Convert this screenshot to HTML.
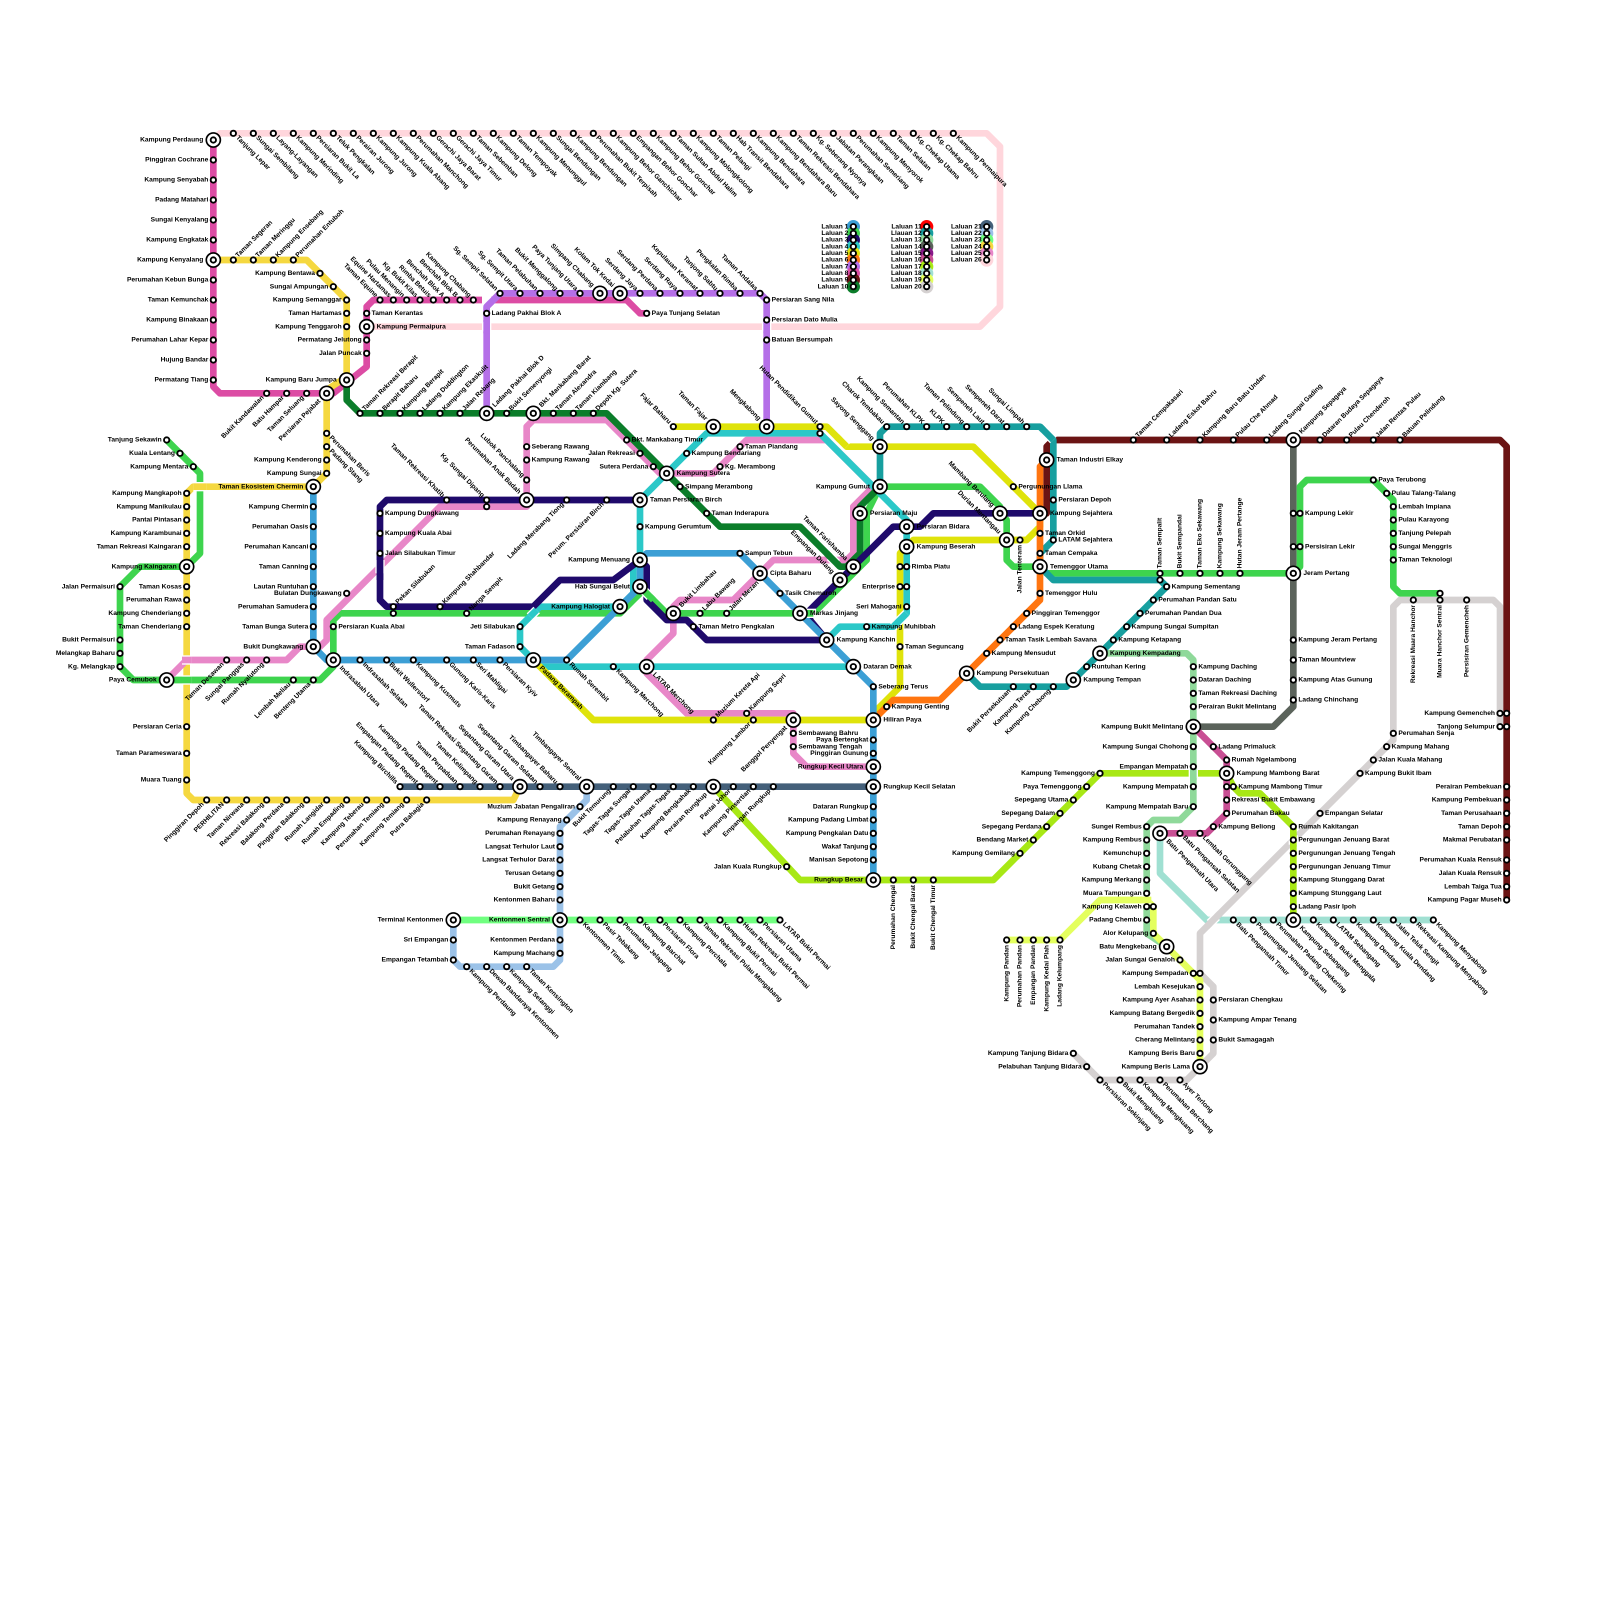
<!DOCTYPE html>
<html><head><meta charset="utf-8"><title>Peta Laluan</title>
<style>
html,body{margin:0;padding:0;background:#fff}
svg{display:block}
text{font-family:"Liberation Sans",Arial,sans-serif;font-weight:bold;font-size:1px;fill:#000}
.e{text-anchor:end}
.l path{fill:none;stroke-width:1;stroke-linejoin:round;stroke-linecap:round}
.p path{fill:none;stroke-width:1;stroke-linecap:butt;stroke-linejoin:round}
.p path.w{stroke:#fff;stroke-width:1.4}
.d{fill:none;stroke-linecap:round}
</style></head><body>
<svg xmlns="http://www.w3.org/2000/svg" width="1600" height="1600" viewBox="0 0 240 240">
<rect width="240" height="240" fill="#fff"/>
<g class="l">
<path stroke="#ffd6dc" d="M32 21L33 20H148L150 22V46L147 49H55"/>
<path stroke="#a0e0d2" d="M174 125V131L181 138H215"/>
<path stroke="#d5d1d1" d="M225 109V91L224 90H210L209 91V111L180 140V146L182 148V158L178 162H165L161 158"/>
<path stroke="#a8e815" d="M107 118L120 132H149L165 116H184L185 118L186 119H189L194 124V138"/>
<path stroke="#8fd99a" d="M165 98H178L179 99V121L177 123H173L172 124V140L175 142"/>
<path stroke="#e4ff5e" d="M151 141H159L165 135H172L173 136V140L180 147V160"/>
<path stroke="#5b635b" d="M194 66V106L191 109H179"/>
<path stroke="#c94f94" d="M179 109L184 114V122L181 125H174"/>
<path stroke="#9bc2e8" d="M88 118V120L84 124V144L83 145H69L68 144V138"/>
<path stroke="#44607a" d="M60 118H131"/>
<path stroke="#70ff80" d="M68 138H117"/>
<path stroke="#dc4ca4" d="M32 21V58L33 59H50L55 55V46L56 45H94L96 47H97"/>
<path stroke="#b56fe8" d="M73 62V46L75 44H114L115 45V64"/>
<path stroke="#f5d840" d="M32 39H46L52 45V56.500L49 58.500V71L47 73H29L28 74V119L29 120H77L78 118"/>
<path stroke="#3ed44e" d="M25 66L30 71V83L28 85H21L18 88V100L20 102H48L50 100V93L51 92H93L96 89V88L100 92H122L130 84V77L132 73H147L150 76V77L151 78V84L152 85H156L157 86H194L195 85V73L196 72H206L209 75V88L210 89H216"/>
<path stroke="#e887c8" d="M25 102L28 99H43L45 97H48L49 96V93L66 76H79V64L80 63H91L99 71H107L112 66H124L131 73L128 76V83L127 84H116L110 90H102L101 91V95L97 99V101L103 107H119V113L121 115H131"/>
<path stroke="#2bc8c8" d="M128 100H81L80 99L78 97V94L81 91H93L95 89V85L96 84V75L106 65H123L136 78V92L134 94H126L124 96L128 100"/>
<path stroke="#dfe30b" d="M101 64H124L127 67H146L156 77V79L155 80L154 81H137L135 83V103L131 107V108H89L80 99"/>
<path stroke="#0b7d2a" d="M52 57V60L54 62H91L108 79H120L126 85H127L129 83V76L132 73"/>
<path stroke="#6b1414" d="M157 77V67L158 66H225L226 67V135"/>
<path stroke="#179f9f" d="M145 101L147 103H160L175 88L174 87H158L156 85V83L158 81V66L156 64H133L132 65V73"/>
<path stroke="#ff7510" d="M157 69L156 70V90L141 105H134L131 108"/>
<path stroke="#1f0a6b" d="M156 77H140L138 79H134L121.500 91.500V93L124 96H106L103 93H100L97 90V85L96 84L92 87H84L80 91H58L57 90V76L58 75H96"/>
<path stroke="#3c9fd5" d="M47 73V97L49 99H85L96 88V84L97 83H111L131 103V132"/>
</g>
<g class="p">
<path class="w" d="M73 44V46"/><path stroke="#b56fe8" d="M73 47V46L75 44"/>
<path class="w" d="M73 48.300V49.700"/><path stroke="#b56fe8" d="M73 48V50"/>
<path class="w" d="M115 48.300V49.700"/><path stroke="#b56fe8" d="M115 48V50"/>
<path class="w" d="M57 84V86"/><path stroke="#1f0a6b" d="M57 83V87"/>
<path class="w" d="M29 73H31"/><path stroke="#f5d840" d="M29 73H31"/>
<path class="w" d="M27.300 99H28.700"/><path stroke="#e887c8" d="M27.300 99H28.700"/>
<path class="w" d="M27.300 102H28.700"/><path stroke="#3ed44e" d="M27.300 102H28.700"/>
<path class="w" d="M79.500 92.500L80.500 91.500"/><path stroke="#2bc8c8" d="M79.500 92.500L80.500 91.500"/>
<path class="w" d="M96.500 88.500L97.500 89.500"/><path stroke="#3ed44e" d="M96 88L98 90"/>
<path class="w" d="M121 92H122.400"/><path stroke="#3ed44e" d="M120.500 92H122"/>
<path class="w" d="M136 92L134 94"/><path stroke="#2bc8c8" d="M136 92L134 94"/>
<path class="w" d="M179 115.300V116.700"/><path stroke="#8fd99a" d="M179 115V117"/>
<path class="w" d="M171.300 135H172.700"/><path stroke="#e4ff5e" d="M171 135H172.700"/>
<path class="w" d="M194 125.300V126.700"/><path stroke="#a8e815" d="M194 125V127"/>
<path class="w" d="M182.500 137.500L181.500 138.500"/><path stroke="#d5d1d1" d="M183 137L181 139"/>
<path class="w" d="M124.500 83.500L125.500 84.500"/><path stroke="#0b7d2a" d="M124 83L126 85"/>
<path class="w" d="M156.500 64.500L158 66"/><path stroke="#179f9f" d="M156 64L158 66"/>
<path class="w" d="M126 66L127 67"/><path stroke="#dfe30b" d="M125.500 65.500L127 67"/>
</g>
<g>
<circle cx="128" cy="34" r="1" fill="#3c9fd5"/><circle cx="128" cy="35" r="1" fill="#3ed44e"/><circle cx="128" cy="36" r="1" fill="#1f0a6b"/><circle cx="128" cy="37" r="1" fill="#2bc8c8"/><circle cx="128" cy="38" r="1" fill="#dfe30b"/><circle cx="128" cy="39" r="1" fill="#ff7510"/><circle cx="128" cy="40" r="1" fill="#b56fe8"/><circle cx="128" cy="41" r="1" fill="#dc4ca4"/><circle cx="128" cy="42" r="1" fill="#6b1414"/><circle cx="128" cy="43" r="1" fill="#0b7d2a"/>
<circle cx="139" cy="34" r="1" fill="#ff0000"/><circle cx="139" cy="35" r="1" fill="#179f9f"/><circle cx="139" cy="36" r="1" fill="#8fd99a"/><circle cx="139" cy="37" r="1" fill="#5b635b"/><circle cx="139" cy="38" r="1" fill="#8a1a8a"/><circle cx="139" cy="39" r="1" fill="#c94f94"/><circle cx="139" cy="40" r="1" fill="#a8e815"/><circle cx="139" cy="41" r="1" fill="#a0e0d2"/><circle cx="139" cy="42" r="1" fill="#e4ff5e"/><circle cx="139" cy="43" r="1" fill="#d5d1d1"/>
<circle cx="148" cy="34" r="1" fill="#44607a"/><circle cx="148" cy="35" r="1" fill="#9bc2e8"/><circle cx="148" cy="36" r="1" fill="#70ff80"/><circle cx="148" cy="37" r="1" fill="#f5d840"/><circle cx="148" cy="38" r="1" fill="#e887c8"/><circle cx="148" cy="39" r="1" fill="#ffd6dc"/>
</g>
<defs>
<path id="st" d="M35 20h0M38 20h0M41 20h0M44 20h0M47 20h0M50 20h0M53 20h0M56 20h0M59 20h0M62 20h0M65 20h0M68 20h0M71 20h0M74 20h0M77 20h0M80 20h0M83 20h0M86 20h0M89 20h0M92 20h0M95 20h0M98 20h0M101 20h0M104 20h0M107 20h0M110 20h0M113 20h0M116 20h0M119 20h0M122 20h0M125 20h0M128 20h0M131 20h0M134 20h0M137 20h0M140 20h0M143 20h0
M32 24h0M32 27h0M32 30h0M32 33h0M32 36h0M32 42h0M32 45h0M32 48h0M32 51h0M32 54h0M32 57h0M40 59h0M43 59h0M46 59h0M57 45h0M59 45h0M61 45h0M63 45h0M65 45h0M67 45h0M69 45h0M71 45h0M55 47h0M55 51h0M55 53h0M97 47h0
M75 44h0M78 44h0M81 44h0M84 44h0M87 44h0M96 44h0M99 44h0M102 44h0M105 44h0M108 44h0M111 44h0M114 44h0M73 47h0M115 45h0M115 48h0M115 51h0
M35 39h0M38 39h0M41 39h0M44 39h0M48 41h0M50 43h0M52 45h0M52 47h0M52 49h0M49 65h0M49 67h0M49 69h0M49 71h0M28 74h0M28 76h0M28 78h0M28 80h0M28 82h0M28 88h0M28 90h0M28 92h0M28 94h0M28 109h0M28 113h0M28 117h0M31 120h0M34 120h0M37 120h0M40 120h0M43 120h0M46 120h0M49 120h0M52 120h0M55 120h0M58 120h0M61 120h0M64 120h0
M60 118h0M63 118h0M66 118h0M69 118h0M72 118h0M75 118h0M81 118h0M84 118h0M92 118h0M95 118h0M98 118h0M101 118h0M104 118h0M110 118h0M113 118h0M116 118h0
M87 121h0M85 123h0M84 125h0M84 127h0M84 129h0M84 131h0M84 133h0M84 135h0M84 141h0M84 143h0M68 141h0M68 144h0M70 145h0M73 145h0M76 145h0M79 145h0
M87 138h0M90 138h0M93 138h0M96 138h0M99 138h0M102 138h0M105 138h0M108 138h0M111 138h0M114 138h0M117 138h0
M47 76h0M47 79h0M47 82h0M47 85h0M47 88h0M47 91h0M47 94h0M54 99h0M58 99h0M62 99h0M67 99h0M71 99h0M75 99h0M85 99h0M111 83h0M117 89h0M131 103h0M131 111h0M131 113h0M131 121h0M131 123h0M131 125h0M131 127h0M131 129h0
M25 66h0M27 68h0M29 70h0M18 88h0M18 96h0M18 98h0M18 100h0M44 102h0M47 102h0M50 94h0M59 92h0M70 92h0M105 92h0M109 92h0M174 86h0M177 86h0M180 86h0M183 86h0M186 86h0M195 77h0M195 82h0M206 72h0M208 74h0M209 76h0M209 78h0M209 80h0M209 82h0M209 84h0M216 89h0
M57 77h0M57 80h0M57 83h0M59 91h0M66 91h0M67 75h0M73 75h0M85 75h0M91 75h0M104 94h0
M78 94h0M78 97h0M92 100h0M96 79h0M103 68h0M123 65h0M130 94h0M136 85h0M136 88h0M136 91h0
M101 64h0M123 64h0M135 85h0M135 88h0M135 97h0M107 108h0M113 108h0M152 73h0M153 81h0
M54 62h0M57 62h0M60 62h0M63 62h0M66 62h0M69 62h0M76 62h0M83 62h0M86 62h0M89 62h0M94 66h0M96 68h0M98 70h0M102 73h0M106 77h0
M34 99h0M37 99h0M40 99h0M52 89h0M73 76h0M79 67h0M79 69h0M79 72h0M108 70h0M111 67h0M112 107h0M119 110h0M119 112h0
M133 64h0M136 64h0M139 64h0M142 64h0M145 64h0M148 64h0M151 64h0M154 64h0M158 75h0M158 81h0M152 103h0M155 103h0M158 103h0M163 100h0M167 96h0M169 94h0M171 92h0M173 90h0M175 88h0M174 87h0
M133 106h0M148 98h0M150 96h0M152 94h0M154 92h0M156 89h0M156 83h0M156 80h0
M170 66h0M175 66h0M180 66h0M185 66h0M190 66h0M198 66h0M202 66h0M206 66h0M210 66h0M226 107h0M226 109h0M226 118h0M226 120h0M226 122h0M226 124h0M226 126h0M226 129h0M226 131h0M226 133h0M226 135h0
M225 107h0M225 109h0M212 90h0M216 90h0M220 90h0M209 110h0M208 112h0M206 114h0M204 116h0M198 122h0M180 146h0M182 150h0M182 153h0M182 156h0M161 158h0M163 160h0M165 162h0M168 162h0M171 162h0M174 162h0M177 162h0
M194 77h0M194 82h0M194 96h0M194 99h0M194 102h0M194 105h0
M179 100h0M179 102h0M179 104h0M179 106h0M179 112h0M179 115h0M179 118h0M179 121h0M172 124h0M172 126h0M172 128h0M172 130h0M172 132h0M172 134h0M172 136h0M172 138h0
M151 141h0M153 141h0M155 141h0M157 141h0M159 141h0M173 136h0M173 140h0M177 144h0M179 146h0M180 148h0M180 150h0M180 152h0M180 154h0M180 156h0M180 158h0
M118 130h0M134 132h0M137 132h0M140 132h0M165 116h0M163 118h0M161 120h0M159 122h0M157 124h0M155 126h0M153 128h0M185 118h0M194 124h0M194 126h0M194 128h0M194 130h0M194 132h0M194 134h0M194 136h0
M182 112h0M184 114h0M184 118h0M184 120h0M184 122h0M182 124h0M177 125h0M180 125h0
M185 138h0M188 138h0M191 138h0M197 138h0M200 138h0M203 138h0M206 138h0M209 138h0M212 138h0M215 138h0
M128 34h0M128 35h0M128 36h0M128 37h0M128 38h0M128 39h0M128 40h0M128 41h0M128 42h0M128 43h0M139 34h0M139 35h0M139 36h0M139 37h0M139 38h0M139 39h0M139 40h0M139 41h0M139 42h0M139 43h0M148 34h0M148 35h0M148 36h0M148 37h0M148 38h0M148 39h0"/>
<path id="it" d="M32 21h0M32 39h0M55 49h0M52 57h0M49 59h0M73 62h0M80 62h0M90 44h0M93 44h0M47 73h0M28 85h0M25 102h0M47 97h0M50 99h0M79 75h0M80 99h0M96 75h0M100 71h0M107 64h0M115 64h0M132 73h0M132 67h0M129 77h0M136 79h0M136 82h0M128 85h0M126 87h0M96 84h0M96 88h0M93 91h0M101 92h0M114 86h0M120 92h0M124 96h0M128 100h0M97 100h0M150 77h0M151 81h0M145 101h0M157 69h0M156 77h0M156 85h0M194 86h0M194 66h0M165 98h0M161 102h0M179 109h0M184 116h0M174 125h0M175 142h0M194 138h0M180 160h0M119 108h0M131 108h0M131 115h0M131 118h0M131 132h0M88 118h0M107 118h0M84 138h0M78 118h0M68 138h0"/>
</defs>
<use href="#st" class="d" stroke="#000" stroke-width="1.08"/>
<use href="#st" class="d" stroke="#fff" stroke-width=".52"/>
<use href="#it" class="d" stroke="#000" stroke-width="2.36"/>
<use href="#it" class="d" stroke="#fff" stroke-width="1.86"/>
<use href="#it" class="d" stroke="#000" stroke-width="1.08"/>
<use href="#it" class="d" stroke="#fff" stroke-width=".52"/>

<g class="e">
<text x="127.25" y="34.25">Laluan 1</text><text x="127.25" y="35.25">Laluan 2</text><text x="127.25" y="36.25">Laluan 3</text><text x="127.25" y="37.25">Laluan 4</text><text x="127.25" y="38.25">Laluan 5</text><text x="127.25" y="39.25">Laluan 6</text><text x="127.25" y="40.25">Laluan 7</text><text x="127.25" y="41.25">Laluan 8</text><text x="127.25" y="42.25">Laluan 9</text><text x="127.25" y="43.25">Laluan 10</text>
<text x="138.25" y="34.25">Laluan 11</text><text x="138.25" y="35.25">Llauan 12</text><text x="138.25" y="36.25">Laluan 13</text><text x="138.25" y="37.25">Laluan 14</text><text x="138.25" y="38.25">Laluan 15</text><text x="138.25" y="39.25">Laluan 16</text><text x="138.25" y="40.25">Laluan 17</text><text x="138.25" y="41.25">Laluan 18</text><text x="138.25" y="42.25">Laluan 19</text><text x="138.25" y="43.25">Laluan 20</text>
<text x="147.25" y="34.25">Laluan 21</text><text x="147.25" y="35.25">Laluan 22</text><text x="147.25" y="36.25">Laluan 23</text><text x="147.25" y="37.25">Laluan 24</text><text x="147.25" y="38.25">Laluan 25</text><text x="147.25" y="39.25">Laluan 26</text>
<text x="30.5" y="21.25">Kampung Perdaung</text><text x="31.25" y="24.25">Pinggiran Cochrane</text><text x="31.25" y="27.25">Kampung Senyabah</text><text x="31.25" y="30.25">Padang Matahari</text><text x="31.25" y="33.25">Sungai Kenyalang</text><text x="31.25" y="36.25">Kampung Engkatak</text><text x="30.5" y="39.25">Kampung Kenyalang</text><text x="31.25" y="42.25">Perumahan Kebun Bunga</text><text x="31.25" y="45.25">Taman Kemunchak</text><text x="31.25" y="48.25">Kampung Binakaan</text><text x="31.25" y="51.25">Perumahan Lahar Kepar</text><text x="31.25" y="54.25">Hujung Bandar</text><text x="31.25" y="57.25">Permatang Tiang</text>
<text x="50.5" y="57.25">Kampung Baru Jumpa</text><text x="47.25" y="41.25">Kampung Bentawa</text><text x="49.25" y="43.25">Sungai Ampungan</text><text x="51.25" y="45.25">Kampung Semanggar</text><text x="51.25" y="47.25">Taman Hartamas</text><text x="51.25" y="49.25">Kampung Tenggaroh</text><text x="54.25" y="51.25">Permatang Jelutong</text><text x="54.25" y="53.25">Jalan Puncak</text>
<text x="24.25" y="66.25">Tanjung Sekawin</text><text x="26.25" y="68.25">Kuala Lentang</text><text x="28.25" y="70.25">Kampung Mentara</text><text x="27.25" y="74.25">Kampung Mangkapoh</text><text x="27.25" y="76.25">Kampung Manikulau</text><text x="27.25" y="78.25">Pantai Pintasan</text><text x="27.25" y="80.25">Kampung Karambunai</text><text x="27.25" y="82.25">Taman Rekreasi Kaingaran</text><text x="26.5" y="85.25">Kampung Kaingaran</text><text x="27.25" y="88.25">Taman Kosas</text><text x="27.25" y="90.25">Perumahan Rawa</text><text x="27.25" y="92.25">Kampung Chenderiang</text><text x="27.25" y="94.25">Taman Chenderiang</text>
<text x="17.25" y="88.25">Jalan Permaisuri</text><text x="17.25" y="96.25">Bukit Permaisuri</text><text x="17.25" y="98.25">Melangkap Baharu</text><text x="17.25" y="100.25">Kg. Melangkap</text><text x="23.5" y="102.25">Paya Cemubok</text>
<text x="48.25" y="69.25">Kampung Kenderong</text><text x="48.25" y="71.25">Kampung Sungai</text><text x="45.5" y="73.25">Taman Ekosistem Chermin</text>
<text x="46.25" y="76.25">Kampung Chermin</text><text x="46.25" y="79.25">Perumahan Oasis</text><text x="46.25" y="82.25">Perumahan Kancani</text><text x="46.25" y="85.25">Taman Canning</text><text x="46.25" y="88.25">Lautan Runtuhan</text><text x="46.25" y="91.25">Perumahan Samudera</text><text x="46.25" y="94.25">Taman Bunga Sutera</text><text x="45.5" y="97.25">Bukit Dungkawang</text><text x="51.25" y="89.25">Bulatan Dungkawang</text>
<text x="77.25" y="94.25">Jeti Silabukan</text><text x="77.25" y="97.25">Taman Fadason</text><text x="94.5" y="84.25">Kampung Menuang</text><text x="94.5" y="88.25">Hab Sungai Belut</text><text x="91.5" y="91.25">Kampung Halogiat</text><text x="95.25" y="68.25">Jalan Rekreasi</text><text x="97.25" y="70.25">Sutera Perdana</text>
<text x="130.5" y="73.25">Kampung Gumut</text><text x="134.25" y="88.25">Enterprise</text><text x="135.25" y="91.25">Seri Mahogani</text>
<text x="130.25" y="111.25">Paya Bertengkat</text><text x="130.25" y="113.25">Pinggiran Gunung</text><text x="129.5" y="115.25">Rungkup Kecil Utara</text><text x="130.25" y="121.25">Dataran Rungkup</text><text x="130.25" y="123.25">Kampung Padang Limbat</text><text x="130.25" y="125.25">Kampung Pengkalan Datu</text><text x="130.25" y="127.25">Wakaf Tanjung</text><text x="130.25" y="129.25">Manisan Sepotong</text><text x="129.5" y="132.25">Rungkup Besar</text><text x="117.25" y="130.25">Jalan Kuala Rungkup</text>
<text x="86.25" y="121.25">Muzium Jabatan Pengaliran</text><text x="84.25" y="123.25">Kampung Renayang</text><text x="83.25" y="125.25">Perumahan Renayang</text><text x="83.25" y="127.25">Langsat Terhulor Laut</text><text x="83.25" y="129.25">Langsat Terhulor Darat</text><text x="83.25" y="131.25">Terusan Getang</text><text x="83.25" y="133.25">Bukit Getang</text><text x="83.25" y="135.25">Kentonmen Baharu</text><text x="82.5" y="138.25">Kentonmen Sentral</text><text x="83.25" y="141.25">Kentonmen Perdana</text><text x="83.25" y="143.25">Kampung Machang</text>
<text x="66.5" y="138.25">Terminal Kentonmen</text><text x="67.25" y="141.25">Sri Empangan</text><text x="67.25" y="144.25">Empangan Tetambah</text>
<text x="27.25" y="109.25">Persiaran Ceria</text><text x="27.25" y="113.25">Taman Parameswara</text><text x="27.25" y="117.25">Muara Tuang</text>
<text x="164.25" y="116.25">Kampung Temenggong</text><text x="162.25" y="118.25">Paya Temenggong</text><text x="160.25" y="120.25">Sepegang Utama</text><text x="158.25" y="122.25">Sepegang Dalam</text><text x="156.25" y="124.25">Sepegang Perdana</text><text x="154.25" y="126.25">Bendang Market</text><text x="152.25" y="128.25">Kampung Gemilang</text>
<text x="177.5" y="109.25">Kampung Bukit Melintang</text><text x="178.25" y="112.25">Kampung Sungai Chohong</text><text x="178.25" y="115.25">Empangan Mempatah</text><text x="178.25" y="118.25">Kampung Mempatah</text><text x="178.25" y="121.25">Kampung Mempatah Baru</text>
<text x="171.25" y="124.25">Sungei Rembus</text><text x="171.25" y="126.25">Kampung Rembus</text><text x="171.25" y="128.25">Kemunchup</text><text x="171.25" y="130.25">Kubang Chetak</text><text x="171.25" y="132.25">Kampung Merkang</text><text x="171.25" y="134.25">Muara Tampungan</text><text x="171.25" y="136.25">Kampung Kelaweh</text><text x="171.25" y="138.25">Padang Chembu</text><text x="172.25" y="140.25">Alor Kelupang</text><text x="173.5" y="142.25">Batu Mengkebang</text><text x="176.25" y="144.25">Jalan Sungai Genaloh</text><text x="178.25" y="146.25">Kampung Sempadan</text>
<text x="179.25" y="148.25">Lembah Kesejukan</text><text x="179.25" y="150.25">Kampung Ayer Asahan</text><text x="179.25" y="152.25">Kampung Batang Bergedik</text><text x="179.25" y="154.25">Perumahan Tandek</text><text x="179.25" y="156.25">Cherang Melintang</text><text x="179.25" y="158.25">Kampung Beris Baru</text><text x="178.5" y="160.25">Kampung Beris Lama</text>
<text x="160.25" y="158.25">Kampung Tanjung Bidara</text><text x="162.25" y="160.25">Pelabuhan Tanjung Bidara</text>
<text x="224.25" y="107.25">Kampung Gemencheh</text><text x="224.25" y="109.25">Tanjong Selumpur</text>
<text x="225.25" y="118.25">Perairan Pembekuan</text><text x="225.25" y="120.25">Kampung Pembekuan</text><text x="225.25" y="122.25">Taman Perusahaan</text><text x="225.25" y="124.25">Taman Depoh</text><text x="225.25" y="126.25">Makmal Perubatan</text><text x="225.25" y="129.25">Perumahan Kuala Rensuk</text><text x="225.25" y="131.25">Jalan Kuala Rensuk</text><text x="225.25" y="133.25">Lembah Taiga Tua</text><text x="225.25" y="135.25">Kampung Pagar Museh</text>
</g>

<g>
<text x="55.75" y="47.25">Taman Kerantas</text><text x="56.5" y="49.25">Kampung Permaipura</text><text x="73.75" y="47.25">Ladang Pakhai Blok A</text><text x="97.75" y="47.25">Paya Tunjang Selatan</text><text x="115.75" y="45.25">Persiaran Sang Nila</text><text x="115.75" y="48.25">Persiaran Dato Mulia</text><text x="115.75" y="51.25">Batuan Bersumpah</text>
<text x="57.75" y="77.25">Kampung Dungkawang</text><text x="57.75" y="80.25">Kampung Kuala Abai</text><text x="57.75" y="83.25">Jalan Silabukan Timur</text><text x="50.75" y="94.25">Persiaran Kuala Abai</text>
<text x="79.75" y="67.25">Seberang Rawang</text><text x="79.75" y="69.25">Kampung Rawang</text>
<text x="94.75" y="66.25">Bkt. Mankabang Timur</text><text x="103.75" y="68.25">Kampung Bendariang</text><text x="111.75" y="67.25">Taman Piandang</text><text x="108.75" y="70.25">Kg. Merambong</text><text x="101.5" y="71.25">Kampung Sutera</text><text x="102.75" y="73.25">Simpang Merambong</text><text x="97.5" y="75.25">Taman Persiaran Birch</text><text x="106.75" y="77.25">Taman Inderapura</text><text x="96.75" y="79.25">Kampung Gerumtum</text><text x="111.75" y="83.25">Sampun Tebun</text><text x="115.5" y="86.25">Cipta Baharu</text><text x="117.75" y="89.25">Tasik Chemaroh</text><text x="121.5" y="92.25">Markas Jinjang</text><text x="104.75" y="94.25">Taman Metro Pengkalan</text><text x="125.5" y="96.25">Kampung Kanchin</text><text x="129.5" y="100.25">Dataran Demak</text><text x="131.75" y="103.25">Seberang Terus</text><text x="133.75" y="106.25">Kampung Genting</text><text x="132.5" y="108.25">Hiliran Paya</text><text x="132.5" y="118.25">Rungkup Kecil Selatan</text><text x="119.75" y="110.25">Sembawang Bahru</text><text x="119.75" y="112.25">Sembawang Tengah</text>
<text x="130.5" y="77.25">Persiaran Maju</text><text x="137.5" y="79.25">Persiaran Bidara</text><text x="137.5" y="82.25">Kampung Beserah</text><text x="136.75" y="85.25">Rimba Piatu</text><text x="130.75" y="94.25">Kampung Muhibbah</text><text x="135.75" y="97.25">Taman Seguncang</text><text x="146.5" y="101.25">Kampung Persekutuan</text><text x="148.75" y="98.25">Kampung Mensudut</text><text x="150.75" y="96.25">Taman Tasik Lembah Savana</text><text x="152.75" y="94.25">Ladang Espek Keratung</text><text x="154.75" y="92.25">Pinggiran Temenggor</text><text x="156.75" y="89.25">Temenggor Hulu</text><text x="157.5" y="85.25">Temenggor Utama</text><text x="156.75" y="83.25">Taman Cempaka</text><text x="156.75" y="80.25">Taman Orkid</text><text x="158.75" y="81.25">LATAM Sejahtera</text><text x="157.5" y="77.25">Kampung Sejahtera</text><text x="158.75" y="75.25">Persiaran Depoh</text><text x="152.75" y="73.25">Pergunungan Llama</text><text x="158.5" y="69.25">Taman Industri Elkay</text>
<text x="175.75" y="88.25">Kampung Sementang</text><text x="173.75" y="90.25">Perumahan Pandan Satu</text><text x="171.75" y="92.25">Perumahan Pandan Dua</text><text x="169.75" y="94.25">Kampung Sungai Sumpitan</text><text x="167.75" y="96.25">Kampung Ketapang</text><text x="166.5" y="98.25">Kampung Kempadang</text><text x="163.75" y="100.25">Runtuhan Kering</text><text x="162.5" y="102.25">Kampung Tempan</text>
<text x="179.75" y="100.25">Kampung Daching</text><text x="179.75" y="102.25">Dataran Daching</text><text x="179.75" y="104.25">Taman Rekreasi Daching</text><text x="179.75" y="106.25">Perairan Bukit Melintang</text>
<text x="195.75" y="77.25">Kampung Lekir</text><text x="195.75" y="82.25">Persisiran Lekir</text><text x="195.5" y="86.25">Jeram Pertang</text><text x="194.75" y="96.25">Kampung Jeram Pertang</text><text x="194.75" y="99.25">Taman Mountview</text><text x="194.75" y="102.25">Kampung Atas Gunung</text><text x="194.75" y="105.25">Ladang Chinchang</text>
<text x="206.75" y="72.25">Paya Terubong</text><text x="208.75" y="74.25">Pulau Talang-Talang</text><text x="209.75" y="76.25">Lembah Impiana</text><text x="209.75" y="78.25">Pulau Karayong</text><text x="209.75" y="80.25">Tanjung Pelepah</text><text x="209.75" y="82.25">Sungai Menggris</text><text x="209.75" y="84.25">Taman Teknologi</text>
<text x="209.75" y="110.25">Perumahan Senja</text><text x="208.75" y="112.25">Kampung Mahang</text><text x="206.75" y="114.25">Jalan Kuala Mahang</text><text x="204.75" y="116.25">Kampung Bukit Ibam</text><text x="198.75" y="122.25">Empangan Selatar</text>
<text x="182.75" y="112.25">Ladang Primaluck</text><text x="184.75" y="114.25">Rumah Ngelambong</text><text x="185.5" y="116.25">Kampung Mambong Barat</text><text x="185.75" y="118.25">Kampung Mambong Timur</text><text x="184.75" y="120.25">Rekreasi Bukit Embawang</text><text x="184.75" y="122.25">Perumahan Bakau</text><text x="182.75" y="124.25">Kampung Beliong</text>
<text x="194.75" y="124.25">Rumah Kakitangan</text><text x="194.75" y="126.25">Pergunungan Jenuang Barat</text><text x="194.75" y="128.25">Pergunungan Jenuang Tengah</text><text x="194.75" y="130.25">Pergunungan Jenuang Timur</text><text x="194.75" y="132.25">Kampung Stunggang Darat</text><text x="194.75" y="134.25">Kampung Stunggang Laut</text><text x="194.75" y="136.25">Ladang Pasir Ipoh</text>
<text x="182.75" y="150.25">Persiaran Chengkau</text><text x="182.75" y="153.25">Kampung Ampar Tenang</text><text x="182.75" y="156.25">Bukit Samagagah</text>
</g>

<g transform="translate(.354 .707)">
<text transform="translate(35 20)rotate(45)">Tanjung Lepar</text><text transform="translate(38 20)rotate(45)">Sungai Sembilang</text><text transform="translate(41 20)rotate(45)">Layang-Layangan</text><text transform="translate(44 20)rotate(45)">Kampung Merinding</text><text transform="translate(47 20)rotate(45)">Persiaran Bukit La</text><text transform="translate(50 20)rotate(45)">Teluk Pengkalan</text><text transform="translate(53 20)rotate(45)">Perairan Jurong</text><text transform="translate(56 20)rotate(45)">Kampung Jurong</text><text transform="translate(59 20)rotate(45)">Kampung Kuala Abang</text><text transform="translate(62 20)rotate(45)">Perumahan Manchong</text><text transform="translate(65 20)rotate(45)">Gerachi Jaya Barat</text><text transform="translate(68 20)rotate(45)">Gerachi Jaya Timur</text><text transform="translate(71 20)rotate(45)">Taman Sebemban</text><text transform="translate(74 20)rotate(45)">Kampung Delong</text><text transform="translate(77 20)rotate(45)">Taman Tempoyak</text><text transform="translate(80 20)rotate(45)">Kampung Menunggul</text><text transform="translate(83 20)rotate(45)">Sungai Bendungan</text><text transform="translate(86 20)rotate(45)">Kampung Bendungan</text><text transform="translate(89 20)rotate(45)">Perumahan Bukit Terpisah</text><text transform="translate(92 20)rotate(45)">Kampung Behor Ganchichar</text><text transform="translate(95 20)rotate(45)">Empangan Behor Gonchar</text><text transform="translate(98 20)rotate(45)">Kampung Behor Gonchar</text><text transform="translate(101 20)rotate(45)">Taman Sultan Abdul Halim</text><text transform="translate(104 20)rotate(45)">Kampung Molongkolong</text><text transform="translate(107 20)rotate(45)">Taman Pelangi</text><text transform="translate(110 20)rotate(45)">Hab Transit Bendahara</text><text transform="translate(113 20)rotate(45)">Kampung Bendahara</text><text transform="translate(116 20)rotate(45)">Kampung Bendahara Baru</text><text transform="translate(119 20)rotate(45)">Taman Rekreasi Bendahara</text><text transform="translate(122 20)rotate(45)">Kg. Seberang Nyonya</text><text transform="translate(125 20)rotate(45)">Jabatan Perangkaan</text><text transform="translate(128 20)rotate(45)">Perumahan Semeriang</text><text transform="translate(131 20)rotate(45)">Kampung Menyorok</text><text transform="translate(134 20)rotate(45)">Taman Selatan</text><text transform="translate(137 20)rotate(45)">Kg. Chekap Utama</text><text transform="translate(140 20)rotate(45)">Kg. Chekap Bahru</text><text transform="translate(143 20)rotate(45)">Kampung Permaipura</text>
<text transform="translate(49 65)rotate(45)">Perumahan Beris</text><text transform="translate(49 67)rotate(45)">Padang Stang</text>
<text transform="translate(50.53 99.53)rotate(45)">Indrasabah Utara</text><text transform="translate(54 99)rotate(45)">Indrasabah Selatan</text><text transform="translate(58 99)rotate(45)">Bukit Wullerstorf</text><text transform="translate(62 99)rotate(45)">Kampung Kusmuts</text><text transform="translate(67 99)rotate(45)">Gunung Karis-Karis</text><text transform="translate(71 99)rotate(45)">Seri Mahligai</text><text transform="translate(75 99)rotate(45)">Persiaran Kyiv</text><text transform="translate(80.53 99.53)rotate(45)">Padang Berampah</text><text transform="translate(85 99)rotate(45)">Rumah Serembit</text><text transform="translate(92 100)rotate(45)">Kampung Merchong</text><text transform="translate(97.53 100.53)rotate(45)">LATAR Merchong</text>
<text transform="translate(70 145)rotate(45)">Kampung Perdaung</text><text transform="translate(73 145)rotate(45)">Dewan Bandaraya Kentonmen</text><text transform="translate(76 145)rotate(45)">Kampung Setanggi</text><text transform="translate(79 145)rotate(45)">Taman Kensington</text>
<text transform="translate(87 138)rotate(45)">Kentonmen Timur</text><text transform="translate(90 138)rotate(45)">Pasir Tebakang</text><text transform="translate(93 138)rotate(45)">Perumahan Jelapang</text><text transform="translate(96 138)rotate(45)">Kampung Barchat</text><text transform="translate(99 138)rotate(45)">Persiaran Flora</text><text transform="translate(102 138)rotate(45)">Kampung Perchala</text><text transform="translate(105 138)rotate(45)">Taman Rekreasi Pulau Mengabang</text><text transform="translate(108 138)rotate(45)">Kampung Bukit Permai</text><text transform="translate(111 138)rotate(45)">Hutan Rekreasi Bukit Permai</text><text transform="translate(114 138)rotate(45)">Persiaran Utama</text><text transform="translate(117 138)rotate(45)">LATAR Bukit Permai</text>
<text transform="translate(174.53 125.53)rotate(45)">Batu Pengansah Utara</text><text transform="translate(177 125)rotate(45)">Batu Pengansah Selatan</text><text transform="translate(180 125)rotate(45)">Lembah Gerunggang</text>
<text transform="translate(185 138)rotate(45)">Batu Pengansah Timur</text><text transform="translate(188 138)rotate(45)">Pergunungan Jenuang Selatan</text><text transform="translate(191 138)rotate(45)">Perumahan Padang Chekering</text><text transform="translate(194.53 138.53)rotate(45)">Kampung Sebangang</text><text transform="translate(197 138)rotate(45)">Kampung Bukit Menggala</text><text transform="translate(200 138)rotate(45)">LATAM Sebangang</text><text transform="translate(203 138)rotate(45)">Kampung Dendang</text><text transform="translate(206 138)rotate(45)">Kampung Kuala Dendang</text><text transform="translate(209 138)rotate(45)">Jalan Teluk Sengit</text><text transform="translate(212 138)rotate(45)">Rekreasi Kampung Menyabong</text><text transform="translate(215 138)rotate(45)">Kampung Menyabong</text>
<text transform="translate(165 162)rotate(45)">Persisiran Sekinjang</text><text transform="translate(168 162)rotate(45)">Bukit Mengkuang</text><text transform="translate(171 162)rotate(45)">Kampung Mengkuang</text><text transform="translate(174 162)rotate(45)">Perumahan Berchang</text><text transform="translate(177 162)rotate(45)">Ayer Terlong</text>
</g>

<g class="e" transform="translate(-.707 -.354)">
<text transform="translate(57 45)rotate(45)">Taman Equine</text><text transform="translate(59 45)rotate(45)">Equine Hartamas</text><text transform="translate(61 45)rotate(45)">Pulau Menangin</text><text transform="translate(63 45)rotate(45)">Kg. Bukit Kilas</text><text transform="translate(65 45)rotate(45)">Rimba Betuis</text><text transform="translate(67 45)rotate(45)">Benchah Blok A</text><text transform="translate(69 45)rotate(45)">Benchah Blok B</text><text transform="translate(71 45)rotate(45)">Kampung Chabang</text>
<text transform="translate(75 44)rotate(45)">Sg. Sempit Selatan</text><text transform="translate(78 44)rotate(45)">Sg. Sempit Utara</text><text transform="translate(81 44)rotate(45)">Taman Pelabuhan</text><text transform="translate(84 44)rotate(45)">Bukit Menggalong</text><text transform="translate(87 44)rotate(45)">Paya Tunjang Utara</text><text transform="translate(89.47 43.47)rotate(45)">Simpang Chabang</text><text transform="translate(92.47 43.47)rotate(45)">Kolam Tok Kedai</text><text transform="translate(96 44)rotate(45)">Serdang Jaya</text><text transform="translate(99 44)rotate(45)">Serdang Perdana</text><text transform="translate(102 44)rotate(45)">Serdang Raya</text><text transform="translate(105 44)rotate(45)">Kepulauan Keramat</text><text transform="translate(108 44)rotate(45)">Tanjong Sabtu</text><text transform="translate(111 44)rotate(45)">Pengkalan Rimba</text><text transform="translate(114 44)rotate(45)">Taman Andalas</text>
<text transform="translate(60 118)rotate(45)">Kampung Birchills</text><text transform="translate(63 118)rotate(45)">Empangan Padang Regent</text><text transform="translate(66 118)rotate(45)">Kampung Padang Regent</text><text transform="translate(69 118)rotate(45)">Taman Perpaduan</text><text transform="translate(72 118)rotate(45)">Taman Kelimpang</text><text transform="translate(75 118)rotate(45)">Taman Rekreasi Segantang Garam</text><text transform="translate(77.47 117.47)rotate(45)">Segantang Garam Utara</text><text transform="translate(81 118)rotate(45)">Segantang Garam Selatan</text><text transform="translate(84 118)rotate(45)">Timbangayer Baharu</text><text transform="translate(87.47 117.47)rotate(45)">Timbangayer Sentral</text>
<text transform="translate(67 75)rotate(45)">Taman Rekreasi Khatib</text><text transform="translate(73 75)rotate(45)">Kg. Sungai Dipang</text><text transform="translate(78.47 74.47)rotate(45)">Perumahan Anak Badah</text><text transform="translate(79 72)rotate(45)">Lubok Panchalang</text>
<text transform="translate(101 64)rotate(45)">Fajar Baharu</text><text transform="translate(106.47 63.47)rotate(45)">Taman Fajar</text><text transform="translate(114.47 63.47)rotate(45)">Mengkabong</text><text transform="translate(123 64)rotate(45)">Hutan Pendidikan Gumut</text><text transform="translate(131.47 66.47)rotate(45)">Sayong Senggang</text>
<text transform="translate(133 64)rotate(45)">Charok Tembakau</text><text transform="translate(136 64)rotate(45)">Kampung Semantan</text><text transform="translate(139 64)rotate(45)">Perumahan KLPK</text><text transform="translate(142 64)rotate(45)">KLPK</text><text transform="translate(145 64)rotate(45)">Taman Pelindung</text><text transform="translate(148 64)rotate(45)">Sempeneh Laut</text><text transform="translate(151 64)rotate(45)">Sempeneh Darat</text><text transform="translate(154 64)rotate(45)">Sungai Limpah</text>
<text transform="translate(127.47 84.47)rotate(45)">Taman Farishamba</text><text transform="translate(125.47 86.47)rotate(45)">Empangan Dulang</text><text transform="translate(149.47 76.47)rotate(45)">Mambang Berulang</text><text transform="translate(150.47 80.47)rotate(45)">Durian Mentangau</text>
</g>

<g transform="translate(.707 -.354)">
<text transform="translate(35 39)rotate(-45)">Taman Segeran</text><text transform="translate(38 39)rotate(-45)">Taman Meringgu</text><text transform="translate(41 39)rotate(-45)">Kampung Ensebang</text><text transform="translate(44 39)rotate(-45)">Perumahan Entuboh</text>
<text transform="translate(54 62)rotate(-45)">Taman Rekreasi Berapit</text><text transform="translate(57 62)rotate(-45)">Berapit Baharu</text><text transform="translate(60 62)rotate(-45)">Kampung Berapit</text><text transform="translate(63 62)rotate(-45)">Ladang Duddington</text><text transform="translate(66 62)rotate(-45)">Kampung Ekaskulit</text><text transform="translate(69 62)rotate(-45)">Jalan Rebang</text><text transform="translate(73.53 61.47)rotate(-45)">Ladang Pakhai Blok D</text><text transform="translate(76 62)rotate(-45)">Bukit Semenyongi</text><text transform="translate(80.53 61.47)rotate(-45)">Bkt. Mankabang Barat</text><text transform="translate(83 62)rotate(-45)">Taman Alexandra</text><text transform="translate(86 62)rotate(-45)">Taman Kiambang</text><text transform="translate(89 62)rotate(-45)">Depoh Kg. Sutera</text>
<text transform="translate(170 66)rotate(-45)">Taman Cempakasari</text><text transform="translate(175 66)rotate(-45)">Ladang Eskot Bahru</text><text transform="translate(180 66)rotate(-45)">Kampung Baru Batu Undan</text><text transform="translate(185 66)rotate(-45)">Pulau Che Ahmad</text><text transform="translate(190 66)rotate(-45)">Ladang Sungai Gading</text><text transform="translate(194.53 65.47)rotate(-45)">Kampung Sepagaya</text><text transform="translate(198 66)rotate(-45)">Dataran Budaya Sepagaya</text><text transform="translate(202 66)rotate(-45)">Pulau Chenderoh</text><text transform="translate(206 66)rotate(-45)">Jalan Rentas Pulau</text><text transform="translate(210 66)rotate(-45)">Batuan Pelindung</text>
<text transform="translate(59 91)rotate(-45)">Pekan Silabukan</text><text transform="translate(66 91)rotate(-45)">Kampung Shahbandar</text><text transform="translate(70 92)rotate(-45)">Nanga Sempit</text><text transform="translate(101.53 91.47)rotate(-45)">Bukit Limbahau</text><text transform="translate(105 92)rotate(-45)">Labu Bawang</text><text transform="translate(109 92)rotate(-45)">Jalan Mezan</text><text transform="translate(107 108)rotate(-45)">Muzium Kereta Api</text><text transform="translate(112 107)rotate(-45)">Kampung Sepri</text>
</g>

<g class="e" transform="translate(-.354 .707)">
<text transform="translate(40 59)rotate(-45)">Bukit Kandawalan</text><text transform="translate(43 59)rotate(-45)">Batu Hampar</text><text transform="translate(46 59)rotate(-45)">Taman Seluang</text><text transform="translate(48.47 59.53)rotate(-45)">Persiaran Pejabat</text>
<text transform="translate(34 99)rotate(-45)">Taman Desawan</text><text transform="translate(37 99)rotate(-45)">Sungai Panggas</text><text transform="translate(40 99)rotate(-45)">Rumah Nyalutong</text><text transform="translate(44 102)rotate(-45)">Lembah Meliau</text><text transform="translate(47 102)rotate(-45)">Benteng Utama</text>
<text transform="translate(31 120)rotate(-45)">Pinggiran Depoh</text><text transform="translate(34 120)rotate(-45)">PERHILITAN</text><text transform="translate(37 120)rotate(-45)">Taman Nirwana</text><text transform="translate(40 120)rotate(-45)">Rekreasi Balakong</text><text transform="translate(43 120)rotate(-45)">Balakong Perdana</text><text transform="translate(46 120)rotate(-45)">Pinggiran Balakong</text><text transform="translate(49 120)rotate(-45)">Rumah Langidar</text><text transform="translate(52 120)rotate(-45)">Rumah Empading</text><text transform="translate(55 120)rotate(-45)">Kampung Teberau</text><text transform="translate(58 120)rotate(-45)">Perumahan Temiang</text><text transform="translate(61 120)rotate(-45)">Kampung Temiang</text><text transform="translate(64 120)rotate(-45)">Putra Bahagia</text>
<text transform="translate(85 75)rotate(-45)">Ladang Merabang Tiong</text><text transform="translate(91 75)rotate(-45)">Perum. Persisiran Birch</text>
<text transform="translate(92 118)rotate(-45)">Bukit Temurung</text><text transform="translate(95 118)rotate(-45)">Tagas-Tagas Sungai</text><text transform="translate(98 118)rotate(-45)">Tagas-Tagas Utama</text><text transform="translate(101 118)rotate(-45)">Pelabuhan Tagas-Tagas</text><text transform="translate(104 118)rotate(-45)">Kampung Bengkahak</text><text transform="translate(106.47 118.53)rotate(-45)">Perairan Rungkup</text><text transform="translate(110 118)rotate(-45)">Pantai Johor</text><text transform="translate(113 118)rotate(-45)">Kampung Pinsertian</text><text transform="translate(116 118)rotate(-45)">Empangan Rungkup</text>
<text transform="translate(113 108)rotate(-45)">Kampung Lambor</text><text transform="translate(118.47 108.53)rotate(-45)">Banggol Penyengat</text>
<text transform="translate(152 103)rotate(-45)">Bukit Persekutuan</text><text transform="translate(155 103)rotate(-45)">Kampung Teras</text><text transform="translate(158 103)rotate(-45)">Kampung Chebong</text>
</g>

<g transform="translate(.25 -.75)">
<text transform="translate(174 86)rotate(-90)">Taman Sempalit</text><text transform="translate(177 86)rotate(-90)">Bukit Sempandai</text><text transform="translate(180 86)rotate(-90)">Taman Eko Sekawang</text><text transform="translate(183 86)rotate(-90)">Kampung Sekawang</text><text transform="translate(186 86)rotate(-90)">Hutan Jeram Pertange</text>
</g>
<g class="e" transform="translate(.25 .75)">
<text transform="translate(153 81)rotate(-90)">Jalan Tenteram</text><text transform="translate(134 132)rotate(-90)">Perumahan Chengal</text><text transform="translate(137 132)rotate(-90)">Bukit Chengal Barat</text><text transform="translate(140 132)rotate(-90)">Bukit Chengal Timur</text>
<text transform="translate(151 141)rotate(-90)">Kampung Pandan</text><text transform="translate(153 141)rotate(-90)">Perumahan Pandan</text><text transform="translate(155 141)rotate(-90)">Empangan Pandan</text><text transform="translate(157 141)rotate(-90)">Kampung Kedai Plah</text><text transform="translate(159 141)rotate(-90)">Ladang Kelumpang</text>
<text transform="translate(212 90)rotate(-90)">Rekreasi Muara Hanchor</text><text transform="translate(216 90)rotate(-90)">Muara Hanchor Sentral</text><text transform="translate(220 90)rotate(-90)">Persisiran Gemencheh</text>
</g>
</svg>
</body></html>
